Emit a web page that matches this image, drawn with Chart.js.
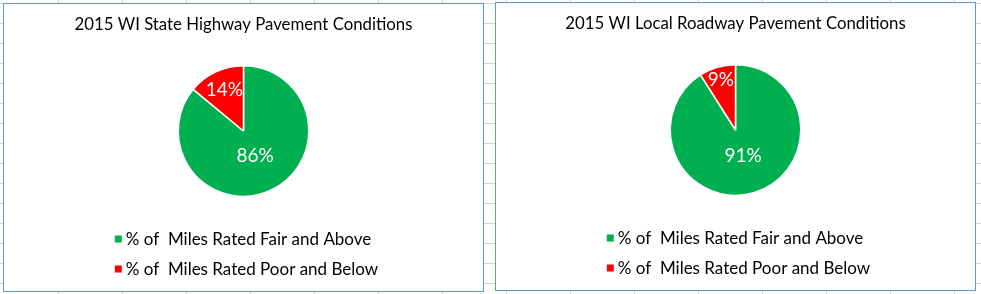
<!DOCTYPE html>
<html>
<head>
<meta charset="utf-8">
<script src="https://cdn.jsdelivr.net/npm/chart.js@4.4.1/dist/chart.umd.min.js"></script>
<style>
  html, body { margin: 0; padding: 0; }
  body {
    width: 981px; height: 294px; overflow: hidden; position: relative;
    background-color: #ffffff;
    background-image:
      linear-gradient(to right, #d4d4d4 1px, transparent 1px),
      linear-gradient(to bottom, #d4d4d4 1px, transparent 1px);
    background-size: 64px 20px, 64px 20px;
    background-position: 58px 3px, 58px 3px;
  }
  .box { position: absolute; box-sizing: border-box; width: 481px; height: 289px;
         border: 1px solid #5b9bd5; background: #ffffff; }
  #b1 { left: 3px; top: 3px; }
  #b2 { left: 495px; top: 2px; }
  canvas { display: block; }
</style>
</head>
<body>
<div class="box" id="b1"><canvas id="c1" width="479" height="287"></canvas></div>
<div class="box" id="b2"><canvas id="c2" width="479" height="287"></canvas></div>
<script>
const categories = ['% of  Miles Rated Fair and Above', '% of  Miles Rated Poor and Below'];
const stateHighwayValues = [86, 14];
const localRoadwayValues = [91, 9];
const chartTitles = ['2015 WI State Highway Pavement Conditions', '2015 WI Local Roadway Pavement Conditions'];
const sliceColors = ['#00B050', '#FF0000'];

const FONT = 'Lato, "Open Sans", sans-serif';

const sliceLabels = {
  id: 'sliceLabels',
  afterDatasetsDraw(chart) {
    const ctx = chart.ctx;
    const ds = chart.data.datasets[0];
    const total = ds.data.reduce((a, b) => a + b, 0);
    const meta = chart.getDatasetMeta(0);
    ctx.save();
    ctx.fillStyle = '#ffffff';
    ctx.font = '19px ' + FONT;
    ctx.textAlign = 'center';
    ctx.textBaseline = 'middle';
    meta.data.forEach((arc, i) => {
      const p = arc.getProps(['x', 'y', 'startAngle', 'endAngle', 'outerRadius'], true);
      const mid = (p.startAngle + p.endAngle) / 2;
      const frac = ds.data[i] / total;
      const d = p.outerRadius * (frac < 0.5 ? 1 - frac * 2.2 : 0.42);
      ctx.fillText(Math.round(frac * 100) + '%', p.x + Math.cos(mid) * d, p.y + Math.sin(mid) * d);
    });
    ctx.restore();
  }
};

const blockLegend = {
  id: 'blockLegend',
  afterDraw(chart) {
    const ctx = chart.ctx;
    const labels = chart.data.labels;
    const colors = chart.data.datasets[0].backgroundColor;
    ctx.save();
    ctx.font = '17px ' + FONT;
    ctx.textBaseline = 'middle';
    ctx.textAlign = 'left';
    const box = 7, gap = 4;
    let maxW = 0;
    labels.forEach(l => { maxW = Math.max(maxW, ctx.measureText(l).width); });
    const startX = (chart.width - (box + gap + maxW)) / 2 + 3;
    const rowY = [chart.chartArea.bottom + 42, chart.chartArea.bottom + 72];
    labels.forEach((l, i) => {
      ctx.fillStyle = colors[i];
      ctx.fillRect(startX, rowY[i] - box / 2, box, box);
      ctx.fillStyle = '#000000';
      ctx.fillText(l, startX + box + gap, rowY[i] + 1);
    });
    ctx.restore();
  }
};

function makePie(canvasId, title, values) {
  return new Chart(document.getElementById(canvasId), {
    type: 'pie',
    data: {
      labels: categories,
      datasets: [{
        data: values,
        backgroundColor: sliceColors,
        borderColor: '#ffffff',
        borderWidth: 1.5,
        hoverOffset: 0
      }]
    },
    options: {
      responsive: false,
      animation: false,
      events: [],
      layout: { padding: { top: 0, bottom: 94, left: 0, right: 0 } },
      plugins: {
        legend: { display: false },
        tooltip: { enabled: false },
        title: {
          display: true,
          text: title,
          color: '#000000',
          font: { family: FONT, size: 16.8, weight: 'normal', lineHeight: 1.2 },
          padding: { top: 11, bottom: 29.8 }
        }
      }
    },
    plugins: [sliceLabels, blockLegend]
  });
}

makePie('c1', chartTitles[0], stateHighwayValues);
makePie('c2', chartTitles[1], localRoadwayValues);
</script>
</body>
</html>
